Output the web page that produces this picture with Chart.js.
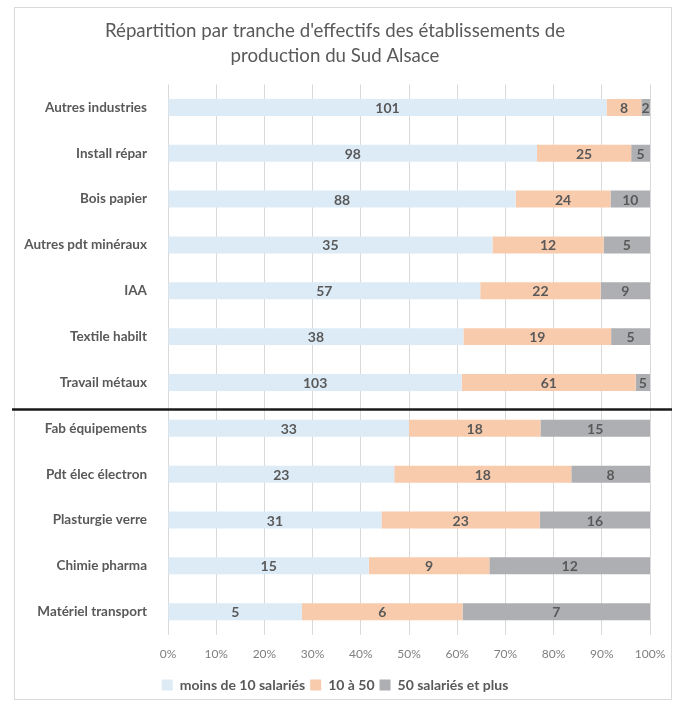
<!DOCTYPE html>
<html><head><meta charset="utf-8">
<script src="https://cdn.jsdelivr.net/npm/chart.js@4/dist/chart.umd.min.js"></script>
<style>html,body{margin:0;padding:0;background:#fff}#wrap{width:685px;height:702px}</style>
</head><body><div id="wrap"><canvas id="c" width="685" height="702"></canvas></div>
<script>
const categories = ["Autres industries","Install répar","Bois papier","Autres pdt minéraux","IAA","Textile habilt","Travail métaux","Fab équipements","Pdt élec électron","Plasturgie verre","Chimie pharma","Matériel transport"];
const moins10 = [101,98,88,35,57,38,103,33,23,31,15,5];
const de10a50 = [8,25,24,12,22,19,61,18,18,23,9,6];
const plus50 = [2,5,10,5,9,5,5,15,8,16,12,7];
const seriesNames = ["moins de 10 salariés","10 à 50","50 salariés et plus"];
const xTicks = [0,10,20,30,40,50,60,70,80,90,100];
const separatorAfter = 6; // line between "Travail métaux" and "Fab équipements"

const totals = categories.map((_,i)=>moins10[i]+de10a50[i]+plus50[i]);
const pct = arr => arr.map((v,i)=>v/totals[i]*100);
const raws = [moins10, de10a50, plus50];
const colors = ["#DDEBF7","#F8CBAD","#AEAFB2"];

const FONT = "Lato, 'Open Sans', sans-serif";

const framePlugin = {
  id:'frame',
  beforeDraw(chart){
    const ctx = chart.ctx;
    ctx.save();
    ctx.strokeStyle = '#d9d9d9';
    ctx.lineWidth = 1;
    ctx.strokeRect(14.5, 7.5, 657, 692);
    ctx.restore();
  }
};
const labelPlugin = {
  id:'vlabels',
  afterDatasetsDraw(chart){
    const ctx = chart.ctx;
    ctx.save();
    ctx.font = "bold 14px " + FONT;
    ctx.fillStyle = '#595959';
    ctx.textAlign = 'center';
    ctx.textBaseline = 'middle';
    chart.data.datasets.forEach((ds,di)=>{
      const meta = chart.getDatasetMeta(di);
      meta.data.forEach((bar,i)=>{
        const x = (bar.base + bar.x)/2;
        ctx.fillText(String(raws[di][i]), x, bar.y+1);
      });
    });
    const y = chart.scales.y;
    const yy = (y.getPixelForValue(separatorAfter) + y.getPixelForValue(separatorAfter+1))/2 + 4;
    ctx.strokeStyle = '#1a1a1a';
    ctx.lineWidth = 2.5;
    ctx.beginPath();
    ctx.moveTo(12, yy);
    ctx.lineTo(672, yy);
    ctx.stroke();
    ctx.restore();
  }
};

new Chart(document.getElementById('c'), {
  type:'bar',
  data:{
    labels: categories,
    datasets: seriesNames.map((n,k)=>({
      label:n,
      data:pct(raws[k]),
      backgroundColor:colors[k],
      borderWidth:0,
      barPercentage:0.37,
      categoryPercentage:1
    }))
  },
  options:{
    indexAxis:'y',
    responsive:false,
    animation:false,
    layout:{padding:{left:20,right:35,top:4,bottom:0}},
    plugins:{
      title:{display:true,text:["Répartition par tranche d'effectifs des établissements de","production du Sud Alsace"],
        color:'#595959',font:{family:FONT,size:18.7,weight:'normal',lineHeight:1.35},padding:{top:14,bottom:16}},
      legend:{position:'bottom',labels:{boxWidth:11,boxHeight:11,color:'#595959',padding:5,font:{family:FONT,size:14,weight:'bold'}}},
      tooltip:{enabled:false}
    },
    scales:{
      x:{stacked:true,min:0,max:100,
        afterBuildTicks(ax){ax.ticks = xTicks.map(v=>({value:v}));},
        ticks:{callback:v=>v+'%',color:'#7f7f7f',font:{family:FONT,size:12},padding:12},
        grid:{color:'#d9d9d9',drawTicks:false},border:{display:false}},
      y:{stacked:true,
        afterFit(ax){ax.width = 148;},
        ticks:{color:'#595959',font:{family:FONT,size:13.5,weight:'bold'},padding:13},
        grid:{display:false},border:{display:false}}
    }
  },
  plugins:[framePlugin,labelPlugin]
});
</script></body></html>
